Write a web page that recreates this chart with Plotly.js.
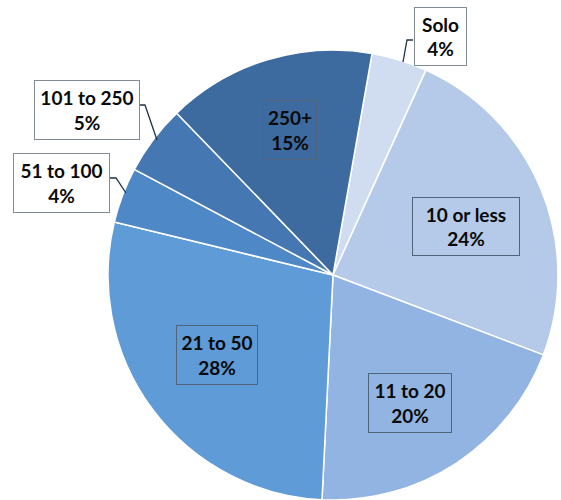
<!DOCTYPE html>
<html>
<head>
<meta charset="utf-8">
<script src="https://cdn.plot.ly/plotly-3.0.1.min.js"></script>
<style>html,body{margin:0;padding:0;background:#fff;}#chart{width:561px;height:500px;}</style>
</head>
<body>
<div id="chart"></div>
<script>
var labels = ['Solo', '10 or less', '11 to 20', '21 to 50', '51 to 100', '101 to 250', '250+'];
var percents = [4, 24, 20, 28, 4, 5, 15];
var colors = ['#d0ddf1', '#b5cae9', '#91b4e2', '#5f9bd6', '#4f88c7', '#4578b3', '#3d6ba0'];

// label box placement (paper px) - layout only
var boxes = [
  {cx: 440, cy: 37, w: 51, h: 57, out: true},
  {cx: 466, cy: 227, w: 106, h: 57, out: false},
  {cx: 410, cy: 403, w: 82, h: 58, out: false},
  {cx: 217, cy: 355, w: 80, h: 58, out: false},
  {cx: 61, cy: 183, w: 95, h: 58, out: true},
  {cx: 87, cy: 110, w: 104, h: 58, out: true},
  {cx: 290, cy: 130, w: 52, h: 58, out: false}
];
var W = 561, H = 500;
var annotations = labels.map(function (l, i) {
  var b = boxes[i];
  return {
    xref: 'paper', yref: 'paper',
    x: b.cx / W, y: 1 - b.cy / H,
    xanchor: 'center', yanchor: 'middle',
    text: '<b>' + l + '</b><br><b>' + percents[i] + '%</b>',
    showarrow: false,
    width: b.w, height: b.h,
    borderpad: 0,
    borderwidth: 1,
    bordercolor: b.out ? '#808b93' : '#50657c',
    bgcolor: b.out ? '#ffffff' : 'rgba(0,0,0,0)',
    font: {family: 'Lato, "Open Sans", sans-serif', size: 19, color: '#0a0a0a'},
    align: 'center'
  };
});
function pp(x, y) { return (x / W) + ',' + (1 - y / H); }
var leader = '#1e3344';
var shapes = [
  {type: 'path', xref: 'paper', yref: 'paper', path: 'M' + pp(413, 40) + ' L' + pp(407, 40) + ' L' + pp(403, 62), line: {color: leader, width: 1.3}},
  {type: 'path', xref: 'paper', yref: 'paper', path: 'M' + pp(140, 105) + ' L' + pp(145, 105) + ' L' + pp(157, 140), line: {color: leader, width: 1.3}},
  {type: 'path', xref: 'paper', yref: 'paper', path: 'M' + pp(110, 178) + ' L' + pp(116, 178) + ' L' + pp(126, 193), line: {color: leader, width: 1.3}}
];

var data = [{
  type: 'pie',
  labels: labels,
  values: percents,
  sort: false,
  direction: 'clockwise',
  rotation: 10,
  marker: {colors: colors, line: {color: '#ffffff', width: 1.5}},
  textinfo: 'none',
  hoverinfo: 'none',
  showlegend: false,
  domain: {x: [108 / W, 558 / W], y: [0, 0.9]}
}];
var layout = {
  width: W, height: H,
  margin: {l: 0, r: 0, t: 0, b: 0},
  paper_bgcolor: '#ffffff',
  showlegend: false,
  annotations: annotations,
  shapes: shapes
};
Plotly.newPlot('chart', data, layout, {displayModeBar: false, staticPlot: true});
</script>
</body>
</html>
